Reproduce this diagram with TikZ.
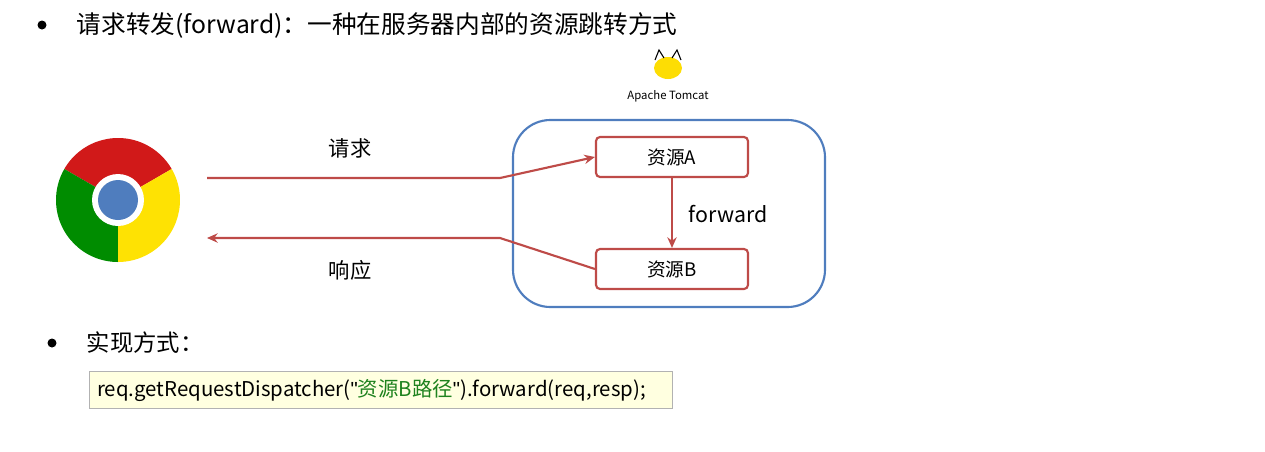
\documentclass[tikz,border=0pt]{standalone}
\usepackage{fontspec}
\setmainfont{Noto Sans CJK SC}
\newfontfamily\latinfont{Liberation Sans}
\usetikzlibrary{positioning,arrows.meta}
\definecolor{boxred}{RGB}{190,75,72}
\definecolor{tomblue}{RGB}{79,125,190}
\definecolor{codebg}{RGB}{255,255,224}
\definecolor{codegreen}{RGB}{30,130,30}
\tikzset{
  resbox/.style={draw=boxred,line width=1.6pt,rounded corners=3pt,minimum width=114pt,minimum height=30pt,font=\fontsize{14}{16}\selectfont},
  flow/.style={draw=boxred,line width=1.6pt,-{Stealth[length=8pt,width=7pt]}},
  bigtext/.style={font=\fontsize{16}{18}\selectfont,anchor=west}
}
\begin{document}
\begin{tikzpicture}[x=0.75pt,y=0.75pt,yscale=-1,xscale=1]
\useasboundingbox (0,0) rectangle (1265,451);

% Title
\fill (42,25) circle (4.5);
\node[bigtext,font=\fontsize{18.5}{20}\selectfont] (title) at (72,25) {请求转发(forward)：一种在服务器内部的资源跳转方式};

% Tomcat
\fill[yellow!80!orange] (668,68) ellipse (14 and 11);
\draw[line width=0.8pt] (655,60) -- (659,50) -- (664,58) (672,58) -- (677,50) -- (681,60);
\node[font=\fontsize{8.5}{10}\selectfont] (tomcat) at (668,96) {Apache Tomcat};

% Chrome
\fill[red!80!black!90] (118,200) -- ++(210:62) arc (210:330:62) -- cycle;
\fill[green!55!black] (118,200) -- ++(90:62) arc (90:210:62) -- cycle;
\fill[yellow!85!orange] (118,200) -- ++(-30:62) arc (-30:90:62) -- cycle;
\fill[white] (118,200) circle (26);
\fill[tomblue] (118,200) circle (20);

% Server
\draw[tomblue,line width=1.6pt,rounded corners=28pt] (513,120) rectangle (825,307);
\node[resbox] (resA) at (672,157) {资源A};
\node[resbox] (resB) at (672,269) {资源B};

% Connections
\coordinate (reqL) at (207,178);
\coordinate (reqM) at (500,178);
\coordinate (rspM) at (500,238);
\coordinate (rspL) at (207,238);
\draw[flow] (reqL) -- (reqM) -- (resA.west);
\draw[flow] (resB.west) -- (rspM) -- (rspL);
\draw[flow] (resA) -- (resB);
\node[bigtext,anchor=center] (reqlabel) at (350,148) {请求};
\node[bigtext,anchor=center] (rsplabel) at (350,270) {响应};
\node[bigtext,anchor=center] (fwdlabel) at (728,214) {forward};

% Implementation
\fill (52,343) circle (4.5);
\node[bigtext,font=\fontsize{17.5}{20}\selectfont] (impl) at (82,343) {实现方式：};
\node[draw=gray!60,fill=codebg,anchor=west,minimum width=437pt,minimum height=28pt,inner xsep=6pt,font=\fontsize{15.3}{17}\selectfont,text width=425pt] (code) at (89,390)
  {req.getRequestDispatcher({\latinfont"}\textcolor{codegreen}{资源B路径}{\latinfont"}).forward(req,resp);};
\end{tikzpicture}
\end{document}
